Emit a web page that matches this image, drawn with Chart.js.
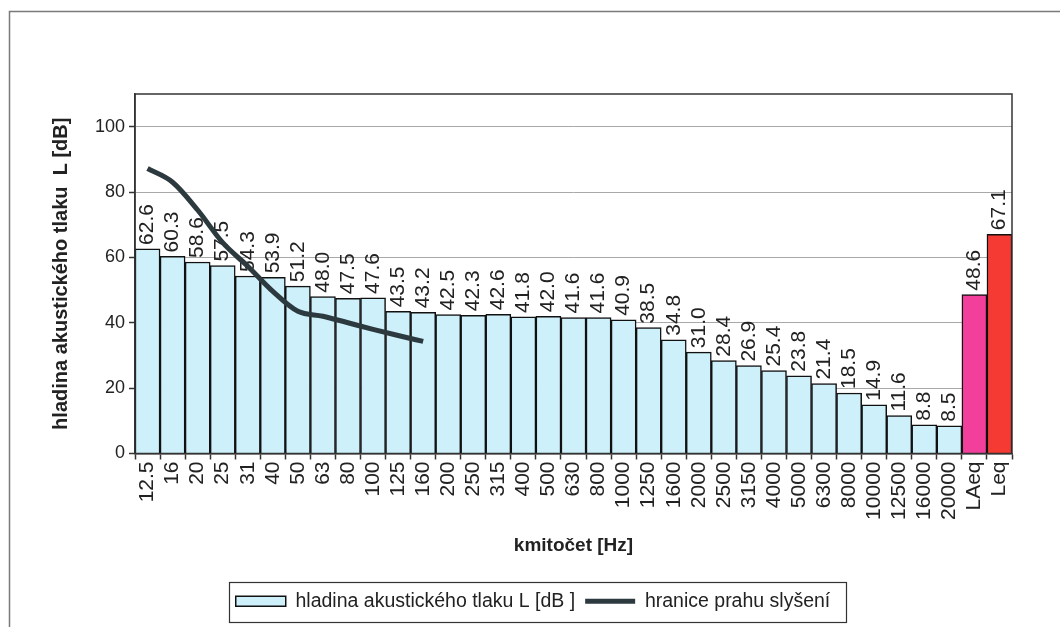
<!DOCTYPE html>
<html>
<head>
<meta charset="utf-8">
<title>hladina akustického tlaku</title>
<script src="https://cdn.jsdelivr.net/npm/chart.js@4.4.1/dist/chart.umd.min.js"></script>
<style>
    html, body { margin: 0; padding: 0; background: #fff; }
    canvas { display: block; }
</style>
</head>
<body>
<canvas id="myChart" width="1060" height="627"></canvas>
<script>
// frequency bands + the two total levels at the end
var frequencies = ["12.5", "16", "20", "25", "31", "40", "50", "63", "80", "100", "125", "160",
    "200", "250", "315", "400", "500", "630", "800", "1000", "1250", "1600", "2000", "2500",
    "3150", "4000", "5000", "6300", "8000", "10000", "12500", "16000", "20000", "LAeq", "Leq"];

// measured level per band [dB]
var levels = [62.6, 60.3, 58.6, 57.5, 54.3, 53.9, 51.2, 48.0, 47.5, 47.6, 43.5, 43.2,
    42.5, 42.3, 42.6, 41.8, 42.0, 41.6, 41.6, 40.9, 38.5, 34.8, 31.0, 28.4,
    26.9, 25.4, 23.8, 21.4, 18.5, 14.9, 11.6, 8.8, 8.5, 48.6, 67.1];

// hearing threshold, only given from 12.5 to 160 Hz
var threshold = [87.2, 83.0, 74.5, 64.5, 57.3, 49.6, 43.5, 42.0, 40.0, 38.0, 36.1, 34.3];

var yTicks = [0, 20, 40, 60, 80, 100];

var font = '"Liberation Sans", Arial, sans-serif';
var textColor = "#222";
var barColor = "#cdf0fa";
var lineColor = "#2c3a3f";

//colours for each bar, the last two are LAeq and Leq
var barColors = [];
for (var i = 0; i < levels.length; i++) {
    if (frequencies[i] === "LAeq") {
        barColors.push("#f23f9c");
    } else if (frequencies[i] === "Leq") {
        barColors.push("#f43a33");
    } else {
        barColors.push(barColor);
    }
}

var decor = {
    id: "decor",
    afterLayout: function (chart) {
        //legend sits in the middle of the page, not of the padded area
        var lg = chart.legend;
        var shift = 533 - (lg.left + lg.right) / 2;
        lg.left += shift;
        lg.right += shift;
    },
    beforeDraw: function (chart) {
        //outer frame, only top and left are visible
        var ctx = chart.ctx;
        ctx.save();
        ctx.strokeStyle = "#7a7a7a";
        ctx.lineWidth = 1.5;
        ctx.beginPath();
        ctx.moveTo(9.5, 627);
        ctx.lineTo(9.5, 11.5);
        ctx.lineTo(1060, 11.5);
        ctx.stroke();
        ctx.restore();
    },
    afterDatasetDraw: function (chart, args) {
        if (args.index !== 0) return;
        //value labels above bars, rotated
        var ctx = chart.ctx;
        ctx.save();
        ctx.font = "21px " + font;
        ctx.fillStyle = textColor;
        ctx.textAlign = "left";
        ctx.textBaseline = "middle";
        args.meta.data.forEach(function (bar, i) {
            ctx.save();
            ctx.translate(bar.x, bar.y - 4);
            ctx.rotate(-Math.PI / 2);
            ctx.fillText(levels[i].toFixed(1), 0, 0);
            ctx.restore();
        });
        ctx.restore();
    },
    afterDraw: function (chart) {
        var ctx = chart.ctx;
        var a = chart.chartArea;
        ctx.save();
        ctx.strokeStyle = "#333";
        ctx.lineWidth = 1.5;
        ctx.strokeRect(a.left, a.top, a.right - a.left, a.bottom - a.top);

        //box round the legend
        var boxes = chart.legend.legendHitBoxes;
        if (boxes && boxes.length) {
            var l = boxes[0].left, r = boxes[0].left + boxes[0].width;
            var t = boxes[0].top, b = boxes[0].top + boxes[0].height;
            boxes.forEach(function (h) {
                l = Math.min(l, h.left);
                r = Math.max(r, h.left + h.width);
                t = Math.min(t, h.top);
                b = Math.max(b, h.top + h.height);
            });
            ctx.lineWidth = 1.2;
            ctx.strokeRect(Math.round(l - 7) + 0.5, Math.round(t - 10) + 0.5, Math.round(r - l + 22), Math.round(b - t + 20));
        }
        ctx.restore();
    }
};

var ctx1 = document.getElementById("myChart");
var myChart = new Chart(ctx1, {
    type: "bar",
    data: {
        labels: frequencies,
        datasets: [{
            label: "hladina akustického tlaku L [dB ]",
            data: levels,
            backgroundColor: barColors,
            borderColor: "#111",
            borderWidth: 1.5,
            barPercentage: 1,
            categoryPercentage: 1,
            order: 1
        }, {
            type: "line",
            label: "hranice prahu slyšení",
            data: threshold,
            borderColor: lineColor,
            backgroundColor: lineColor,
            borderWidth: 5,
            pointRadius: 0,
            cubicInterpolationMode: "monotone",
            fill: false,
            order: 0
        }]
    },
    options: {
        responsive: false,
        animation: false,
        layout: { padding: { left: 9, top: 94, right: 48, bottom: 6 } },
        plugins: {
            tooltip: { enabled: false },
            legend: {
                position: "bottom",
                labels: {
                    usePointStyle: true,
                    pointStyleWidth: 50,
                    boxHeight: 10,
                    padding: 10,
                    color: textColor,
                    font: { family: font, size: 19.5 },
                    generateLabels: function () {
                        return [{
                            text: "hladina akustického tlaku L [dB ]",
                            fillStyle: barColor,
                            strokeStyle: "#111",
                            lineWidth: 1.5,
                            pointStyle: "rect",
                            fontColor: textColor,
                            datasetIndex: 0
                        }, {
                            text: "hranice prahu slyšení",
                            fillStyle: lineColor,
                            strokeStyle: lineColor,
                            lineWidth: 5,
                            pointStyle: "line",
                            fontColor: textColor,
                            datasetIndex: 1
                        }];
                    }
                }
            }
        },
        scales: {
            x: {
                offset: true,
                grid: { offset: true, drawOnChartArea: false, drawTicks: true, tickLength: 6, tickColor: "#333", tickWidth: 1.5 },
                border: { color: "#333", width: 1.5 },
                ticks: { color: textColor, font: { family: font, size: 21 }, maxRotation: 90, minRotation: 90, autoSkip: false, padding: 2 },
                title: {
                    display: true,
                    text: "kmitočet [Hz]",
                    color: textColor,
                    font: { family: font, size: 19, weight: "bold" },
                    padding: { top: 0, bottom: 24 }
                },
                afterFit: function (scale) { scale.height = 128; }
            },
            y: {
                min: 0,
                max: 110,
                afterBuildTicks: function (scale) {
                    scale.ticks = yTicks.map(function (v) { return { value: v }; });
                },
                grid: { color: "#a8a8a8", lineWidth: 1, tickColor: "#333", tickLength: 6, tickWidth: 1.5 },
                border: { color: "#333", width: 1.5 },
                ticks: { color: textColor, font: { family: font, size: 18 }, padding: 4 },
                title: {
                    display: true,
                    text: "hladina akustického tlaku  L [dB]",
                    color: textColor,
                    font: { family: font, size: 20, weight: "bold" },
                    padding: { top: 40, bottom: 0 }
                },
                afterFit: function (scale) { scale.width = 126; }
            }
        }
    },
    plugins: [decor]
});
</script>
</body>
</html>
